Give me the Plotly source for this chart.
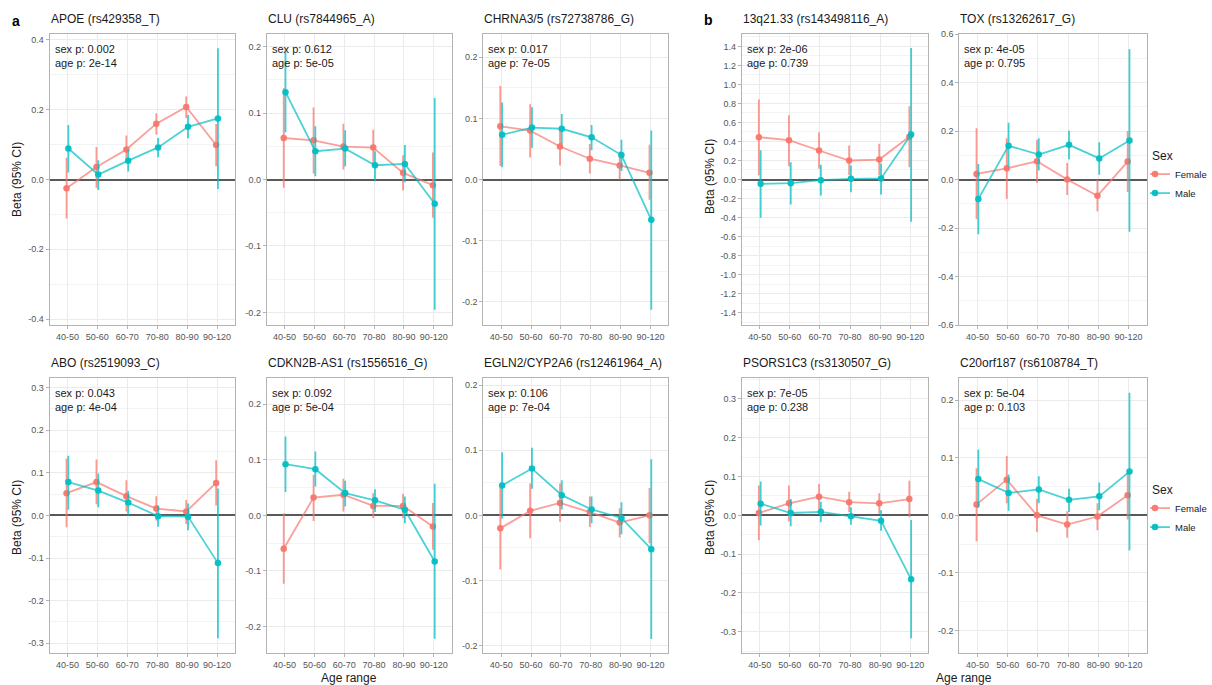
import plotly.graph_objects as go

# ---------------------------------------------------------------------------
# Data: age-stratified effect sizes (beta with 95% CI) by sex for each locus
# ---------------------------------------------------------------------------
age_groups = ["40-50", "50-60", "60-70", "70-80", "80-90", "90-120"]

titles = [
    "APOE (rs429358_T)", "CLU (rs7844965_A)", "CHRNA3/5 (rs72738786_G)",
    "13q21.33 (rs143498116_A)", "TOX (rs13262617_G)",
    "ABO (rs2519093_C)", "CDKN2B-AS1 (rs1556516_G)", "EGLN2/CYP2A6 (rs12461964_A)",
    "PSORS1C3 (rs3130507_G)", "C20orf187 (rs6108784_T)",
]
sex_p = ["0.002", "0.612", "0.017", "2e-06", "4e-05",
         "0.043", "0.092", "0.106", "7e-05", "5e-04"]
age_p = ["2e-14", "5e-05", "7e-05", "0.739", "0.795",
         "4e-04", "5e-04", "7e-04", "0.238", "0.103"]

# APOE
apoe_f = [-0.025, 0.036, 0.086, 0.160, 0.208, 0.099]
apoe_f_lo = [-0.112, -0.024, 0.048, 0.129, 0.176, 0.038]
apoe_f_hi = [0.062, 0.093, 0.126, 0.190, 0.238, 0.159]
apoe_m = [0.089, 0.014, 0.054, 0.092, 0.151, 0.175]
apoe_m_lo = [0.020, -0.030, 0.023, 0.064, 0.118, -0.027]
apoe_m_hi = [0.156, 0.055, 0.084, 0.119, 0.185, 0.376]

# CLU
clu_f = [0.0625, 0.059, 0.0495, 0.048, 0.010, -0.0085]
clu_f_lo = [-0.0125, 0.009, 0.015, 0.021, -0.0165, -0.0575]
clu_f_hi = [0.1375, 0.1085, 0.084, 0.075, 0.0365, 0.0405]
clu_m = [0.1315, 0.0425, 0.0465, 0.0215, 0.0235, -0.0365]
clu_m_lo = [0.071, 0.005, 0.020, -0.0025, -0.004, -0.196]
clu_m_hi = [0.1925, 0.080, 0.074, 0.0425, 0.052, 0.1225]

# CHRNA3/5
chrna_f = [0.087, 0.080, 0.054, 0.034, 0.023, 0.011]
chrna_f_lo = [0.022, 0.036, 0.023, 0.010, 0.000, -0.033]
chrna_f_hi = [0.153, 0.123, 0.086, 0.058, 0.046, 0.057]
chrna_m = [0.073, 0.085, 0.083, 0.069, 0.040, -0.066]
chrna_m_lo = [0.020, 0.052, 0.058, 0.048, 0.014, -0.213]
chrna_m_hi = [0.126, 0.118, 0.107, 0.089, 0.065, 0.080]

# 13q21.33
q13_f = [0.445, 0.413, 0.305, 0.200, 0.210, 0.450]
q13_f_lo = [0.045, 0.140, 0.112, 0.045, 0.045, 0.130]
q13_f_hi = [0.840, 0.675, 0.497, 0.357, 0.375, 0.770]
q13_m = [-0.046, -0.039, -0.007, 0.007, 0.011, 0.473]
q13_m_lo = [-0.403, -0.262, -0.168, -0.133, -0.158, -0.445]
q13_m_hi = [0.308, 0.182, 0.154, 0.147, 0.168, 1.383]

# TOX
tox_f = [0.023, 0.046, 0.075, 0.000, -0.067, 0.074]
tox_f_lo = [-0.163, -0.079, -0.014, -0.064, -0.131, -0.052]
tox_f_hi = [0.211, 0.170, 0.163, 0.068, -0.001, 0.200]
tox_m = [-0.080, 0.139, 0.103, 0.143, 0.087, 0.161]
tox_m_lo = [-0.226, 0.054, 0.037, 0.084, 0.020, -0.215]
tox_m_hi = [0.064, 0.234, 0.170, 0.201, 0.154, 0.537]

# ABO
abo_f = [0.052, 0.078, 0.045, 0.016, 0.009, 0.076]
abo_f_lo = [-0.028, 0.026, 0.009, -0.012, -0.020, 0.023]
abo_f_hi = [0.133, 0.131, 0.082, 0.045, 0.036, 0.129]
abo_m = [0.078, 0.058, 0.030, -0.002, -0.003, -0.112]
abo_m_lo = [0.013, 0.019, 0.000, -0.027, -0.035, -0.288]
abo_m_hi = [0.140, 0.098, 0.057, 0.023, 0.028, 0.063]

# CDKN2B-AS1
cdkn_f = [-0.060, 0.032, 0.037, 0.017, 0.017, -0.020]
cdkn_f_lo = [-0.123, -0.010, 0.007, -0.005, -0.005, -0.062]
cdkn_f_hi = [0.004, 0.073, 0.066, 0.040, 0.039, 0.022]
cdkn_m = [0.092, 0.083, 0.040, 0.027, 0.010, -0.083]
cdkn_m_lo = [0.042, 0.052, 0.016, 0.006, -0.014, -0.222]
cdkn_m_hi = [0.142, 0.115, 0.062, 0.047, 0.034, 0.057]

# EGLN2/CYP2A6
egln_f = [-0.020, 0.007, 0.019, 0.005, -0.011, 0.000]
egln_f_lo = [-0.083, -0.035, -0.010, -0.018, -0.034, -0.043]
egln_f_hi = [0.042, 0.049, 0.049, 0.029, 0.011, 0.042]
egln_m = [0.046, 0.072, 0.031, 0.009, -0.004, -0.052]
egln_m_lo = [-0.005, 0.041, 0.009, -0.012, -0.029, -0.190]
egln_m_hi = [0.097, 0.104, 0.054, 0.029, 0.020, 0.086]

# PSORS1C3
psors_f = [0.006, 0.031, 0.048, 0.034, 0.031, 0.042]
psors_f_lo = [-0.064, -0.015, 0.015, 0.008, 0.004, -0.005]
psors_f_hi = [0.077, 0.077, 0.081, 0.061, 0.057, 0.089]
psors_m = [0.030, 0.006, 0.009, -0.002, -0.014, -0.165]
psors_m_lo = [-0.026, -0.028, -0.018, -0.024, -0.040, -0.317]
psors_m_hi = [0.087, 0.042, 0.035, 0.021, 0.013, -0.012]

# C20orf187
c20_f = [0.019, 0.062, 0.000, -0.016, -0.002, 0.035]
c20_f_lo = [-0.045, 0.021, -0.029, -0.039, -0.026, -0.007]
c20_f_hi = [0.082, 0.103, 0.029, 0.007, 0.021, 0.075]
c20_m = [0.063, 0.039, 0.045, 0.027, 0.033, 0.076]
c20_m_lo = [0.013, 0.008, 0.021, 0.006, 0.009, -0.061]
c20_m_hi = [0.114, 0.071, 0.068, 0.046, 0.057, 0.213]

female_series = [
    (apoe_f, apoe_f_lo, apoe_f_hi), (clu_f, clu_f_lo, clu_f_hi),
    (chrna_f, chrna_f_lo, chrna_f_hi), (q13_f, q13_f_lo, q13_f_hi),
    (tox_f, tox_f_lo, tox_f_hi), (abo_f, abo_f_lo, abo_f_hi),
    (cdkn_f, cdkn_f_lo, cdkn_f_hi), (egln_f, egln_f_lo, egln_f_hi),
    (psors_f, psors_f_lo, psors_f_hi), (c20_f, c20_f_lo, c20_f_hi),
]
male_series = [
    (apoe_m, apoe_m_lo, apoe_m_hi), (clu_m, clu_m_lo, clu_m_hi),
    (chrna_m, chrna_m_lo, chrna_m_hi), (q13_m, q13_m_lo, q13_m_hi),
    (tox_m, tox_m_lo, tox_m_hi), (abo_m, abo_m_lo, abo_m_hi),
    (cdkn_m, cdkn_m_lo, cdkn_m_hi), (egln_m, egln_m_lo, egln_m_hi),
    (psors_m, psors_m_lo, psors_m_hi), (c20_m, c20_m_lo, c20_m_hi),
]

# Symmetric y limits, major tick step and outermost labelled tick per panel
y_half = [0.417, 0.219, 0.238, 1.53, 0.60, 0.322, 0.247, 0.211, 0.354, 0.2385]
y_major = [0.2, 0.1, 0.1, 0.2, 0.2, 0.1, 0.1, 0.1, 0.1, 0.1]
y_lim_tick = [0.4, 0.2, 0.2, 1.4, 0.6, 0.3, 0.2, 0.2, 0.3, 0.2]

# ---------------------------------------------------------------------------
# Layout geometry (pixels)
# ---------------------------------------------------------------------------
W, H = 1212, 685
col_px = [(49.5, 235.0), (266.7, 451.7), (483.3, 668.3), (741.7, 928.3), (959.3, 1146.7)]
row_px = [(34.0, 325.0), (378.0, 652.7)]

FEMALE = "#F8766D"
MALE = "#00BFC4"
FONT = "Liberation Sans"
X_LO, X_HI = -0.6, len(age_groups) - 0.4


def rgba(hex_color, a):
    h = hex_color.lstrip("#")
    r, g, b = int(h[0:2], 16), int(h[2:4], 16), int(h[4:6], 16)
    return f"rgba({r},{g},{b},{a})"


def px_x(v):
    return v / W


def px_y(v):
    return 1 - v / H


def fmt(v):
    s = f"{v:.1f}"
    return "0.0" if s == "-0.0" else s


fig = go.Figure()
annotations = []
dodge = 0.03

for k in range(10):
    row, col = divmod(k, 5)
    n = k + 1
    xa = "x" if n == 1 else f"x{n}"
    ya = "y" if n == 1 else f"y{n}"
    xl, xr = col_px[col]
    yt, yb = row_px[row]

    legend_name = None
    if k == 4:
        legend_name = "legend"
    elif k == 9:
        legend_name = "legend2"

    for sex, series, color, off in (("Female", female_series[k], FEMALE, -dodge),
                                     ("Male", male_series[k], MALE, dodge)):
        beta, lo, hi = series
        xs = [i + off for i in range(len(age_groups))]
        fig.add_trace(go.Scatter(
            x=xs, y=beta, xaxis=xa, yaxis=ya,
            mode="lines+markers", name=sex,
            line=dict(color=rgba(color, 0.7), width=1.8),
            marker=dict(color=rgba(color, 0.95), size=6.5),
            error_y=dict(type="data", symmetric=False,
                         array=[h - b for h, b in zip(hi, beta)],
                         arrayminus=[b - l for b, l in zip(beta, lo)],
                         width=0, thickness=1.8, color=rgba(color, 0.75)),
            showlegend=legend_name is not None,
            legend=legend_name if legend_name else "legend",
            hoverinfo="skip",
        ))

    tick_vals = []
    t = -y_lim_tick[k]
    while t <= y_lim_tick[k] + 1e-9:
        tick_vals.append(round(t, 6))
        t += y_major[k]

    axis_common = dict(
        showline=True, mirror=True, linecolor="#B3B3B3", linewidth=1,
        gridcolor="#EBEBEB", gridwidth=1,
        ticks="outside", ticklen=3, tickcolor="#B3B3B3",
        tickfont=dict(family=FONT, size=9, color="#555555"),
        automargin=False,
    )
    fig.update_layout(**{
        ("xaxis" if n == 1 else f"xaxis{n}"): dict(
            axis_common, domain=[px_x(xl), px_x(xr)], anchor=ya,
            range=[X_LO, X_HI], zeroline=False,
            tickmode="array", tickvals=list(range(len(age_groups))),
            ticktext=age_groups,
        ),
        ("yaxis" if n == 1 else f"yaxis{n}"): dict(
            axis_common, domain=[px_y(yb), px_y(yt)], anchor=xa,
            range=[-y_half[k], y_half[k]],
            # reference line at beta = 0
            zeroline=True, zerolinecolor="#595959", zerolinewidth=1.7,
            tickmode="array", tickvals=tick_vals,
            ticktext=[fmt(v) for v in tick_vals],
            minor=dict(showgrid=True, gridcolor="#F3F3F3", gridwidth=0.7,
                       tickmode="linear", tick0=0, dtick=y_major[k] / 2),
        ),
    })

    # panel title
    annotations.append(dict(
        text=titles[k], xref="paper", yref="paper",
        x=px_x(xl - 1), y=px_y(yt - 15), xanchor="left", yanchor="middle",
        showarrow=False, font=dict(family=FONT, size=12, color="#1A1A1A")))

    # p-value note
    annotations.append(dict(
        text=f"sex p: {sex_p[k]}<br>age p: {age_p[k]}",
        xref="paper", yref="paper", x=px_x(xl + 3), y=px_y(yt + 7),
        xanchor="left", yanchor="top", align="left", showarrow=False,
        font=dict(family=FONT, size=11, color="#1A1A1A")))

# axis titles
for xc, yc in ((17, 180), (17, 518), (710, 177), (710, 518)):
    annotations.append(dict(
        text="Beta (95% CI)", xref="paper", yref="paper",
        x=px_x(xc), y=px_y(yc), textangle=-90, showarrow=False,
        xanchor="center", yanchor="middle",
        font=dict(family=FONT, size=12, color="#1A1A1A")))
for xc in (349, 964):
    annotations.append(dict(
        text="Age range", xref="paper", yref="paper",
        x=px_x(xc), y=px_y(678), showarrow=False,
        xanchor="center", yanchor="middle",
        font=dict(family=FONT, size=12, color="#1A1A1A")))

# panel group letters
for lab, xc, yc in (("a", 16, 21), ("b", 708, 20)):
    annotations.append(dict(
        text=f"<b>{lab}</b>", xref="paper", yref="paper",
        x=px_x(xc), y=px_y(yc), showarrow=False,
        xanchor="center", yanchor="middle",
        font=dict(family=FONT, size=14, color="#000000")))

legend_style = dict(
    title=dict(text="Sex", font=dict(family=FONT, size=12, color="#1A1A1A")),
    font=dict(family=FONT, size=9.5, color="#1A1A1A"),
    bgcolor="rgba(0,0,0,0)", xanchor="left", yanchor="middle",
    itemwidth=30, indentation=-15, tracegroupgap=0,
)

fig.update_layout(
    width=W, height=H,
    margin=dict(l=0, r=0, t=0, b=0, autoexpand=False),
    paper_bgcolor="white", plot_bgcolor="white",
    font=dict(family=FONT),
    annotations=annotations,
    legend=dict(legend_style, x=px_x(1150), y=px_y(176)),
    legend2=dict(legend_style, x=px_x(1150), y=px_y(510)),
)

fig.write_html("out.html")
